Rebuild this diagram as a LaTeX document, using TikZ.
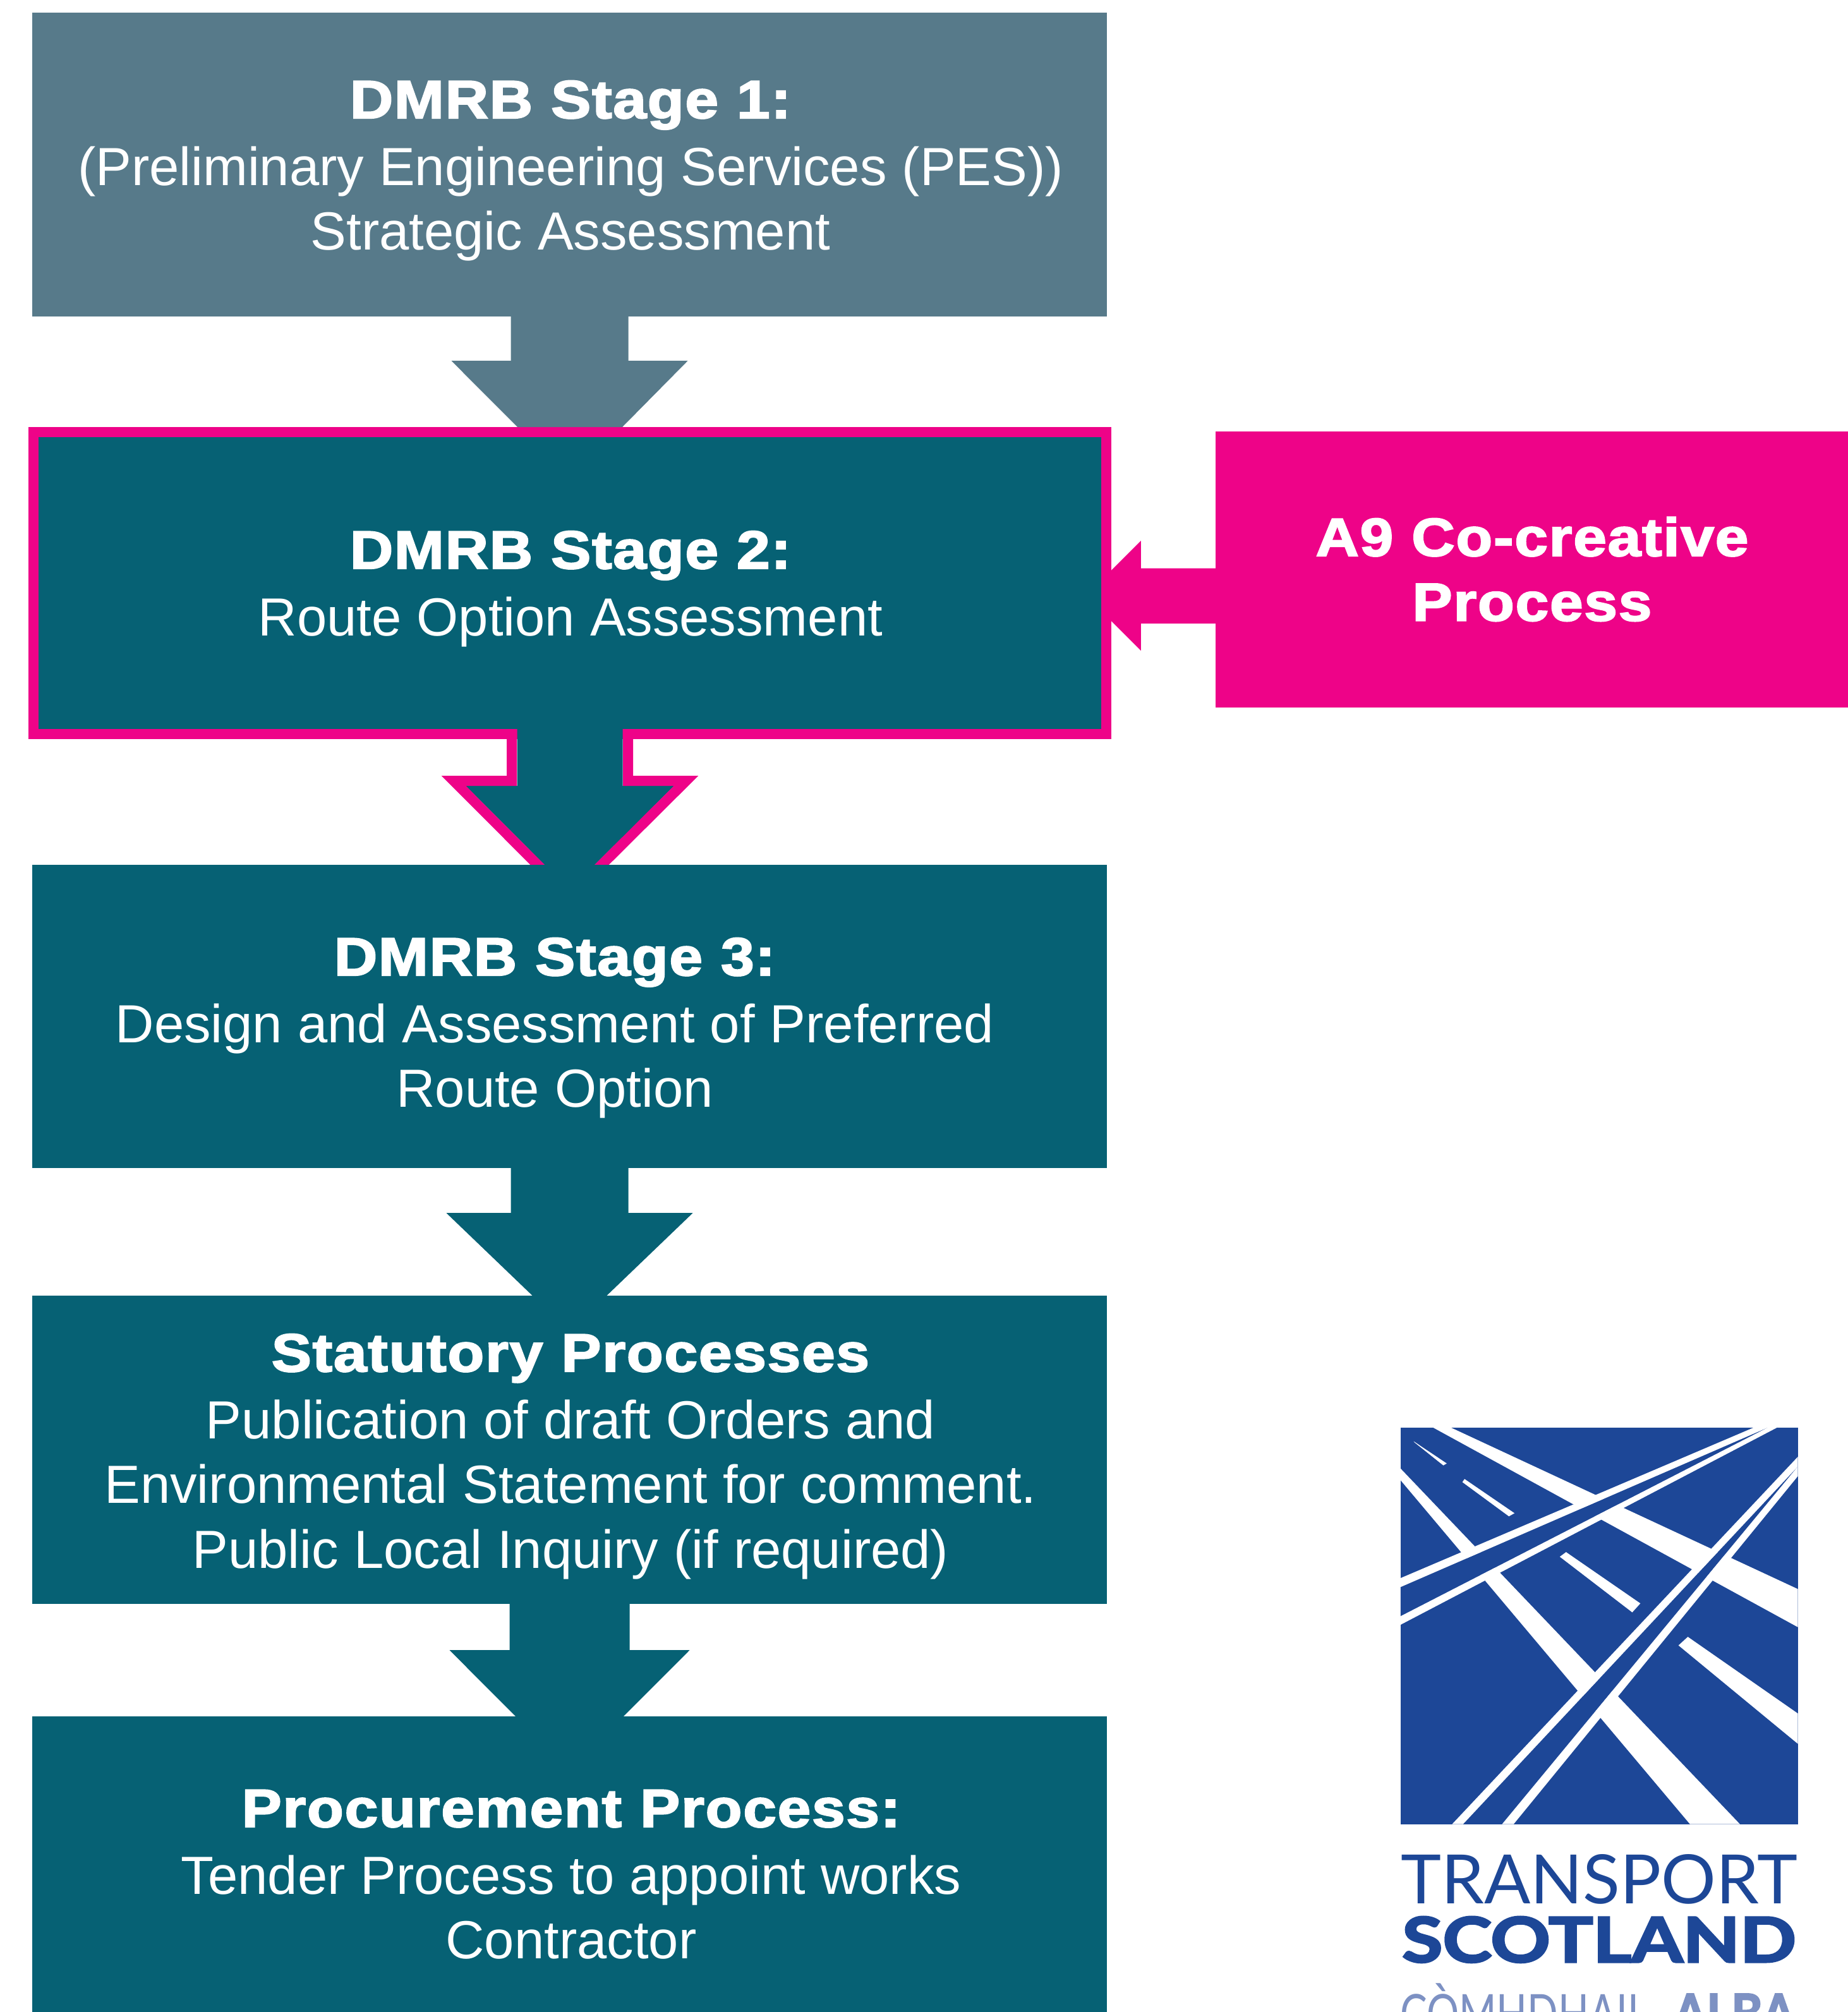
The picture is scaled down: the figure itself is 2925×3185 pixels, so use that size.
\documentclass[tikz,border=0pt]{standalone}
\usepackage{fontspec}
\usepackage{graphicx}
\usetikzlibrary{calc}
\setmainfont{Liberation Sans}
\newfontfamily\heavy[UprightFont=* Bold,FakeBold=2.6,FakeStretch=1.115,LetterSpace=2]{Liberation Sans}
\newfontfamily\logolight{Lato}
\newfontfamily\logobold[UprightFont=* Bold,FakeBold=3]{Lato}
\definecolor{slate}{RGB}{87,122,138}
\definecolor{teal}{RGB}{6,97,116}
\definecolor{magenta}{RGB}{238,3,136}
\definecolor{logoblue}{RGB}{29,71,151}
\definecolor{logopale}{RGB}{125,145,195}
\tikzset{
  boxshape/.style={rectangle,inner sep=0pt,minimum width=1701pt},
  slatebox/.style={boxshape,fill=slate},
  tealbox/.style={boxshape,fill=teal},
  framedbox/.style={rectangle,inner sep=0pt,fill=teal,draw=magenta,line width=16pt,miter limit=10,minimum width=1698.5pt,minimum height=478pt},
  pinkbox/.style={rectangle,inner sep=0pt,fill=magenta},
  boxtext/.style={anchor=base,inner sep=0pt,text=white,text width=1700pt,align=center,font=\fontsize{85}{102.6}\selectfont},
  titletext/.style={boxtext},
  logotext/.style={inner sep=0pt,anchor=base west,text=logoblue},
  logopaletext/.style={inner sep=0pt,anchor=base west,text=logopale,font=\fontsize{84}{84}\selectfont},
  pinkline/.style={draw=magenta,line width=16pt,miter limit=10}
}
% from, to, half shaft, drop to the head, half head, half tip, colour
\newcommand{\blockdown}[7]{%
  \fill[#7] ([xshift=-#3pt]#1.south) -- ([xshift=-#3pt,yshift=-#4pt]#1.south)
    -- ([xshift=-#5pt,yshift=-#4pt]#1.south) -- ([xshift=-#6pt]#2.north)
    -- ([xshift=#6pt]#2.north) -- ([xshift=#5pt,yshift=-#4pt]#1.south)
    -- ([xshift=#3pt,yshift=-#4pt]#1.south) -- ([xshift=#3pt]#1.south) -- cycle;}
\newcommand{\hv}[1]{{\heavy\spaceskip=29pt\relax #1}}
\newcommand{\bh}[1]{\hv{#1}\\[3.4pt]\spaceskip=24pt\relax}
\begin{document}
\begin{tikzpicture}[x=1pt,y=-1pt]
\useasboundingbox (0,0) rectangle (2925,3185);
\clip (0,0) rectangle (2925,3185);
\fill[white] (0,0) rectangle (2925,3185);

% boxes
\node[slatebox,minimum height=481pt] (s1) at (901.5,260.5) {};
\node[framedbox] (s2) at (902,923) {};
\node[tealbox,minimum height=480pt] (s3) at (901.5,1609) {};
\node[tealbox,minimum height=488pt] (s4) at (901.5,2295) {};
\node[tealbox,minimum height=473pt] (s5) at (901.5,2953.5) {};
\node[pinkbox,minimum width=1006pt,minimum height=437pt] (a9) at (2427,901.5) {};

% connectors
\blockdown{s1}{s2}{93}{70}{187}{83}{slate}
\blockdown{s3}{s4}{93}{71}{195}{59}{teal}
\blockdown{s4}{s5}{95}{73}{190}{85.5}{teal}

% stage 2 to stage 3, with the frame carried round its head
\begin{scope}
  \clip (s2.center -| s2.west) rectangle (s3.north east);
  \fill[teal] ([xshift=-83.5pt,yshift=16pt]s2.south) -- ([xshift=-83.5pt,yshift=-74pt]s2.south)
     -- ([xshift=-165pt,yshift=-74pt]s2.south) -- ([xshift=-40pt]s3.north)
     -- ([xshift=40pt]s3.north) -- ([xshift=165pt,yshift=-74pt]s2.south)
     -- ([xshift=83.5pt,yshift=-74pt]s2.south) -- ([xshift=83.5pt,yshift=16pt]s2.south) -- cycle;
  \draw[pinkline] ([xshift=-92pt,yshift=8pt]s2.south) -- ([xshift=-92pt,yshift=-66pt]s2.south)
     -- ([xshift=-184pt,yshift=-66pt]s2.south) -- ([xshift=-41pt,yshift=-10pt]s3.north);
  \draw[pinkline] ([xshift=92pt,yshift=8pt]s2.south) -- ([xshift=92pt,yshift=-66pt]s2.south)
     -- ([xshift=184pt,yshift=-66pt]s2.south) -- ([xshift=41pt,yshift=-10pt]s3.north);
\end{scope}

% A9 process to stage 2
\fill[magenta] (a9.west |- s2.center) ++(0,-23.5) -- ++(-118,0) -- ++(0,-43.5)
   -- ++(-47,47) -- ++(0,80) -- ++(47,47) -- ++(0,-43) -- ++(118,0) -- cycle;

% texts
\node[titletext] (t1) at (903,187) {\bh{DMRB Stage 1:}(Preliminary Engineering Services (PES))\\Strategic Assessment};
\node[titletext] (t2) at (903,900) {\bh{DMRB Stage 2:}Route Option Assessment};
\node[titletext] (t3) at (878,1544) {\bh{DMRB Stage 3:}Design and Assessment of Preferred\\Route Option};
\node[titletext] (t4) at (903,2171) {\bh{Statutory Processes}Publication of draft Orders and\\Environmental Statement for comment.\\Public Local Inquiry (if required)};
\node[titletext] (t5) at (904,2892) {\bh{Procurement Process:}Tender Process to appoint works\\Contractor};
\node[titletext,text width=900pt] (t6) at (2425,880) {\hv{A9 Co-creative}\\\hv{Process}};

% logo
\begin{scope}[shift={(2150,2220)},x=0.4943pt,y=-0.6154pt]
  \fill[logoblue] (135,65) rectangle (1407,1085);
  \fill[white] (240,65) -- (297,65) -- (1407,480) -- (1407,578) -- cycle;
  \fill[white] (135,170) -- (1222,1085) -- (1062,1085) -- (135,200) -- cycle;
  \fill[white] (177,100) -- (283,157) -- (272,162) -- (180,103) -- cycle;
  \fill[white] (340,197) -- (500,285) -- (482,293) -- (333,205) -- cycle;
  \fill[white] (665,385) -- (903,517) -- (877,540) -- (645,397) -- cycle;
  \fill[white] (1055,603) -- (1407,800) -- (1407,878) -- (1025,625) -- cycle;
  \fill[logoblue] (135,475) -- (1310,65) -- (135,550) -- cycle;
  \fill[logoblue] (335,1085) -- (1407,165) -- (460,1085) -- cycle;
  \fill[white] (135,452) -- (1265,65) -- (1310,65) -- (135,475) -- cycle;
  \fill[white] (135,550) -- (1310,65) -- (1340,65) -- (135,572) -- cycle;
  \fill[white] (300,1085) -- (1407,140) -- (1407,165) -- (335,1085) -- cycle;
  \fill[white] (460,1085) -- (1407,165) -- (1407,190) -- (497,1085) -- cycle;
\end{scope}
\node[logotext] (l1) at (2217,3013) {\resizebox{628pt}{78pt}{\logolight TRANSPORT}};
\node[logotext] (l2) at (2219,3106) {\resizebox{623pt}{72pt}{\logobold SCOTLAND}};
\node[logopaletext] (l3) at (2216,3217) {\resizebox{393pt}{\height}{\logolight CÒMHDHAIL}};
\node[logopaletext] (l4) at (2649,3217) {\resizebox{192pt}{\height}{\logobold ALBA}};
\end{tikzpicture}
\end{document}
